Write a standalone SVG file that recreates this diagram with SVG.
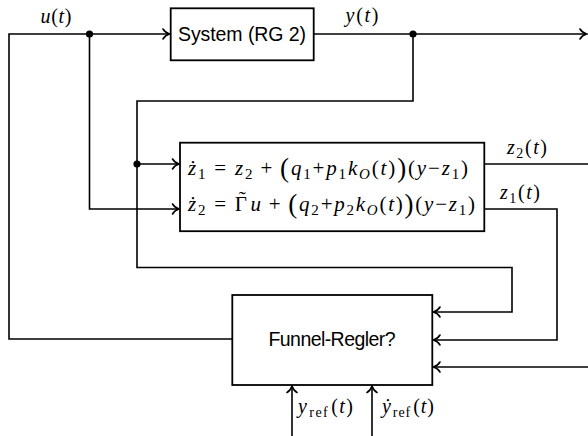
<svg xmlns="http://www.w3.org/2000/svg" width="588" height="436" viewBox="0 0 588 436">
<style>
.ln{fill:none;stroke:#000;stroke-width:1.6;stroke-linejoin:miter}
.box{fill:#fff;stroke:#000;stroke-width:1.8}
.sans{font-family:"Liberation Sans",Arial,sans-serif;font-size:19.5px;fill:#000}
.m{font-family:"Liberation Serif","Times New Roman",serif;font-size:20px;fill:#000}
.eq{font-size:21px}
.i{font-style:italic}
.s{font-size:14px}
.eq .s{font-size:15px}
.b{font-size:27px}
</style>
<defs>
<marker id="arr" markerUnits="userSpaceOnUse" markerWidth="16" markerHeight="16" viewBox="-10 -8 16 16" refX="0" refY="0" orient="auto" overflow="visible">
<path d="M-6.5,-5 C-5,-2.4 -2,-0.6 0,0 C-2,0.6 -5,2.4 -6.5,5" fill="none" stroke="#000" stroke-width="1.6" stroke-linecap="round"/>
</marker>
</defs>
<g id="connectors">
<path class="ln" d="M232,339 H9 V34 H169.5" marker-end="url(#arr)"/>
<path class="ln" d="M89.5,34 V209 H179" marker-end="url(#arr)"/>
<path class="ln" d="M314,34 H586.5" marker-end="url(#arr)"/>
<path class="ln" d="M413,34 V101 H137 V267.5 H512 V312 H433.5" marker-end="url(#arr)"/>
<path class="ln" d="M137,164 H179" marker-end="url(#arr)"/>
<path class="ln" d="M484,164 H588"/>
<path class="ln" d="M484,209 H557 V340 H433.5" marker-end="url(#arr)"/>
<path class="ln" d="M588,367 H433.5" marker-end="url(#arr)"/>
<path class="ln" d="M292,436 V386" marker-end="url(#arr)"/>
<path class="ln" d="M372,436 V386" marker-end="url(#arr)"/>
<circle cx="89.5" cy="34" r="3.6"/>
<circle cx="413" cy="34" r="3.6"/>
<circle cx="137" cy="164" r="3.6"/>
</g>
<g id="labels">
<text class="m" x="56" y="23" text-anchor="middle" textLength="31"><tspan class="i">u</tspan>(<tspan class="i">t</tspan>)</text>
<text class="m" x="362" y="22" text-anchor="middle" textLength="33"><tspan class="i">y</tspan>(<tspan class="i">t</tspan>)</text>
<text class="m" x="527" y="154" text-anchor="middle" textLength="40"><tspan class="i">z</tspan><tspan class="s" dy="4">2</tspan><tspan dy="-4">(</tspan><tspan class="i">t</tspan>)</text>
<text class="m" x="520" y="199" text-anchor="middle" textLength="40"><tspan class="i">z</tspan><tspan class="s" dy="4">1</tspan><tspan dy="-4">(</tspan><tspan class="i">t</tspan>)</text>
<text class="m" x="298" y="413" textLength="55"><tspan class="i">y</tspan><tspan class="s" dy="4" dx="1">ref</tspan><tspan dy="-4" dx="2">(</tspan><tspan class="i">t</tspan>)</text>
<text class="m" x="382" y="413" textLength="52"><tspan class="i">ẏ</tspan><tspan class="s" dy="4" dx="1">ref</tspan><tspan dy="-4" dx="2">(</tspan><tspan class="i">t</tspan>)</text>
</g>
<g id="system">
<rect class="box" x="170.7" y="8.3" width="143" height="52"/>
<text class="sans" x="242" y="41" text-anchor="middle" textLength="128">System (RG 2)</text>
</g>
<g id="observer">
<rect class="box" x="180" y="142.7" width="304.3" height="88.5"/>
<text class="m eq" x="188" y="175" textLength="280"><tspan class="i">ż</tspan><tspan class="s" dy="4">1</tspan><tspan dy="-4" dx="7">=</tspan><tspan class="i" dx="7">z</tspan><tspan class="s" dy="4">2</tspan><tspan dy="-4" dx="6">+</tspan><tspan class="b" dx="6" dy="2">(</tspan><tspan class="i" dy="-2">q</tspan><tspan class="s" dy="4">1</tspan><tspan dy="-4">+</tspan><tspan class="i">p</tspan><tspan class="s" dy="4">1</tspan><tspan class="i" dy="-4">k</tspan><tspan class="s i" dy="4">O</tspan><tspan dy="-4">(</tspan><tspan class="i">t</tspan><tspan>)</tspan><tspan class="b" dy="2">)</tspan><tspan dy="-2">(</tspan><tspan class="i">y</tspan><tspan>−</tspan><tspan class="i">z</tspan><tspan class="s" dy="4">1</tspan><tspan dy="-4">)</tspan></text>
<text class="m eq" x="188" y="211" textLength="287"><tspan class="i">ż</tspan><tspan class="s" dy="4">2</tspan><tspan dy="-4" dx="7">=</tspan><tspan dx="7">Γ</tspan><tspan dx="-9.9" dy="-5">˜</tspan><tspan class="i" dx="2.9" dy="5">u</tspan><tspan dx="6">+</tspan><tspan class="b" dx="6" dy="2">(</tspan><tspan class="i" dy="-2">q</tspan><tspan class="s" dy="4">2</tspan><tspan dy="-4">+</tspan><tspan class="i">p</tspan><tspan class="s" dy="4">2</tspan><tspan class="i" dy="-4">k</tspan><tspan class="s i" dy="4">O</tspan><tspan dy="-4">(</tspan><tspan class="i">t</tspan><tspan>)</tspan><tspan class="b" dy="2">)</tspan><tspan dy="-2">(</tspan><tspan class="i">y</tspan><tspan>−</tspan><tspan class="i">z</tspan><tspan class="s" dy="4">1</tspan><tspan dy="-4">)</tspan></text>
</g>
<g id="funnel">
<rect class="box" x="232.3" y="295" width="200" height="90"/>
<text class="sans" x="332" y="346" text-anchor="middle" textLength="127">Funnel-Regler?</text>
</g>
</svg>
